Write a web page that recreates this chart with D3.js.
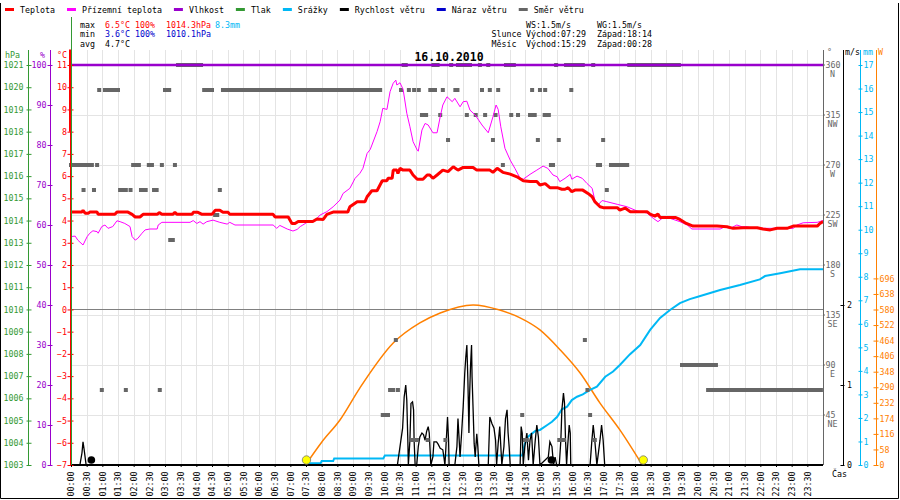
<!DOCTYPE html>
<html>
<head>
<meta charset="utf-8">
<script src="https://cdn.jsdelivr.net/npm/d3@7"></script>
<style>
body { margin: 0; background: #fff; }
svg { display: block; font-family: "DejaVu Sans Mono", monospace; font-size: 8.3px; }
</style>
</head>
<body>
<svg id="chart" width="900" height="500"></svg>
<script>
// values, times in minutes after midnight
const legendNames = ["Teplota", "Přízemní teplota", "Vlhkost", "Tlak", "Srážky", "Rychlost větru", "Náraz větru", "Směr větru"]
const legendColors = ["#ff0000", "#ff00ff", "#9900cc", "#339933", "#00b8f5", "#000000", "#0000cc", "#666666"]

const title = "16.10.2010"
const statsLeft = [
    ["max", "6.5°C", "100%", "1014.3hPa", "8.3mm"],
    ["min", "3.6°C", "100%", "1010.1hPa", ""],
    ["avg", "4.7°C", "", "", ""]
]
const statsRight = [
    ["", "WS:1.5m/s", "WG:1.5m/s"],
    ["Slunce", "Východ:07:29", "Západ:18:14"],
    ["Měsíc", "Východ:15:29", "Západ:00:28"]
]

const temperature = [
    [0,4.38],[21,4.38],[23,4.46],[27,4.33],[33,4.33],[36,4.38],[50,4.38],[52,4.28],[84,4.28],[88,4.38],
    [109,4.38],[117,4.28],[123,4.16],[132,4.16],[138,4.28],[165,4.28],[169,4.36],[174,4.28],[195,4.28],
    [199,4.37],[203,4.28],[232,4.28],[234,4.37],[243,4.37],[251,4.28],[270,4.28],[276,4.46],[285,4.46],
    [291,4.37],[301,4.37],[304,4.28],[387,4.28],[391,4.16],[416,4.16],[423,3.87],[429,3.87],[435,3.96],
    [463,3.96],[471,4.07],[483,4.05],[490,4.28],[502,4.38],[530,4.38],[534,4.62],[548,4.85],[563,4.85],
    [567,5.07],[576,5.34],[586,5.34],[596,5.79],[605,5.79],[607,5.9],[615,5.9],[617,6.27],[624,6.27],
    [626,6.12],[630,6.35],[636,6.27],[649,6.27],[655,6.05],[663,5.86],[674,5.86],[682,6.05],[687,6.05],
    [693,5.9],[701,6.05],[712,6.27],[722,6.2],[732,6.42],[741,6.27],[751,6.39],[770,6.39],[777,6.27],
    [802,6.27],[808,6.17],[816,6.35],[827,6.17],[841,6.09],[854,5.97],[866,5.79],[879,5.76],[892,5.76],
    [898,5.6],[908,5.66],[917,5.48],[931,5.48],[940,5.41],[946,5.41],[952,5.48],[959,5.3],[965,5.37],
    [980,5.37],[990,5.22],[998,5.07],[1003,4.85],[1013,4.62],[1019,4.58],[1046,4.58],[1051,4.47],
    [1061,4.56],[1071,4.4],[1103,4.4],[1109,4.29],[1118,4.2],[1124,4.29],[1128,4.14],[1157,4.14],
    [1166,4.05],[1176,3.9],[1191,3.75],[1237,3.75],[1256,3.72],[1268,3.65],[1287,3.68],[1314,3.68],
    [1325,3.62],[1339,3.58],[1352,3.65],[1371,3.65],[1383,3.75],[1429,3.75],[1434,3.87],[1440,3.95]
]
const tempStartSpike = [11.7, 8.0]

const groundTemp = [
    [0,3.28],[8,3.3],[13,3.12],[23,2.9],[31,3.28],[36,3.43],[42,3.54],[50,3.5],[52,3.43],[59,3.73],
    [65,3.8],[71,3.65],[80,3.73],[88,3.99],[94,3.95],[103,3.87],[113,3.73],[117,3.28],[123,3.12],
    [128,3.2],[136,3.43],[142,3.58],[151,3.62],[165,3.62],[167,3.8],[174,3.92],[228,3.92],[234,4.0],
    [241,3.87],[247,3.95],[253,3.84],[260,3.95],[272,4.02],[285,3.92],[299,3.84],[304,3.92],[314,3.8],
    [387,3.8],[394,3.65],[400,3.78],[414,3.62],[425,3.53],[433,3.6],[439,3.73],[444,3.8],[452,3.92],
    [463,3.95],[471,4.1],[477,4.25],[490,4.4],[502,4.62],[515,4.92],[521,5.22],[534,5.45],[544,5.9],
    [553,6.12],[559,6.35],[567,7.02],[573,7.2],[586,8.0],[592,8.45],[597,9.05],[605,9.0],[611,9.8],
    [617,10.18],[622,10.32],[624,10.1],[630,10.2],[636,9.9],[643,8.83],[649,8.22],[655,7.55],[663,7.17],
    [665,7.12],[672,8.07],[678,8.37],[684,8.3],[693,7.95],[701,7.95],[707,8.67],[712,9.2],[720,9.57],
    [730,9.35],[735,9.5],[745,9.12],[751,9.35],[758,9.37],[764,8.97],[774,8.75],[787,8.3],[799,7.95],
    [808,8.67],[814,9.2],[818,9.0],[823,8.22],[831,7.25],[841,6.72],[850,6.35],[860,5.9],[866,5.86],
    [879,6.08],[892,6.27],[904,6.45],[913,6.35],[923,6.05],[931,5.97],[936,5.75],[946,5.9],[956,6.08],
    [959,5.86],[969,6.0],[979,5.9],[988,5.67],[998,5.45],[1003,4.92],[1009,4.7],[1017,4.9],[1026,4.85],
    [1046,4.73],[1065,4.62],[1084,4.43],[1103,4.34],[1115,4.1],[1124,3.95],[1132,4.1],[1147,4.1],
    [1166,3.95],[1180,3.8],[1189,3.62],[1243,3.62],[1252,3.72],[1262,3.65],[1275,3.8],[1285,3.72],
    [1295,3.72],[1306,3.65],[1344,3.65],[1383,3.65],[1390,3.8],[1402,3.9],[1429,3.92],[1440,4.0]
]

const humidity = [[0,100],[1440,100]]

const precipitation = [
    [0,0],[456,0],[458,0.07],[478,0.07],[480,0.17],[502,0.17],[504,0.28],[598,0.28],[601,0.4],[864,0.4],
    [866,0.6],[869,0.9],[875,1.2],[879,1.27],[889,1.45],[898,1.49],[912,1.7],[921,1.84],[931,2.05],
    [940,2.37],[950,2.48],[959,2.76],[969,2.9],[980,3.0],[994,3.19],[1007,3.33],[1023,3.75],[1038,3.97],
    [1051,4.25],[1070,4.7],[1090,5.1],[1109,5.74],[1128,6.25],[1147,6.59],[1166,6.88],[1185,7.05],
    [1205,7.18],[1243,7.44],[1281,7.65],[1319,7.89],[1329,8.03],[1358,8.15],[1396,8.32],[1440,8.32]
]

const windSpeed = [
    [0,0],[17,0],[21,0.15],[23,0.29],[25,0.2],[29,0],
    [625,0],[630,0.23],[635,0.46],[638,0.85],[641,1.0],[643,0.81],[645,0.31],[646,0],
    [649,0.31],[651,0.77],[654,0.79],[656,0.69],[657,0.31],[659,0],
    [662,0],[665,0.23],[668,0.35],[672,0.4],[675,0.38],[678,0.31],[681,0.42],[684,0.48],[686,0.4],[689,0],
    [693,0.1],[695,0.29],[700,0.29],[703,0.26],[707,0.21],[712,0.19],[714,0.1],[716,0],
    [718,0.23],[721,0.6],[723,0.31],[724,0],
    [735,0],[739,0.23],[741,0.58],[744,0.23],[745,0.1],[748,0.4],[751,0.73],[754,1.15],[756,1.35],
    [758,1.5],[760,1.06],[762,0.4],[763,0.81],[765,1.23],[767,1.5],[768,1.1],[770,0.69],[772,0.27],
    [774,0.1],[777,0.39],[779,0.23],[781,0],
    [799,0],[801,0.4],[802,0.6],[806,0.52],[810,0.46],[813,0.31],[815,0],[818,0.27],[821,0.48],[825,0],
    [829,0.23],[832,0.58],[835,0.69],[837,0.4],[839,0.23],[841,0],
    [860,0],[862,0.48],[864,0.4],[866,0],[869,0.23],[873,0.4],[876,0.06],[879,0.31],[882,0.4],[885,0],
    [889,0.31],[892,0.5],[895,0.35],[898,0],
    [914,0.1],[917,0.29],[921,0.23],[924,0],[927,0.1],[930,0],
    [935,0],[938,0.31],[940,0.69],[943,0.9],[945,0.77],[947,0.31],[949,0],[951,0.23],[954,0.5],[956,0.4],[957,0],
    [994,0],[997,0.27],[1000,0.5],[1003,0.31],[1007,0],[1013,0.31],[1016,0.5],[1019,0.31],[1022,0],
    [1440,0]
]

// wind direction samples as runs: [first minute, last minute, degrees]
const windDirRuns = [
    [205,249,360],[637,641,360],[694,702,360],[728,728,360],[741,754,360],[760,764,360],[783,783,360],
    [799,799,360],[833,841,360],[848,848,360],[929,929,360],[948,980,360],[1000,1000,360],[1069,1164,360],
    [54,54,337.5],[65,90,337.5],[180,188,337.5],[255,270,337.5],[291,592,337.5],[632,632,337.5],
    [647,647,337.5],[657,657,337.5],[666,666,337.5],[688,697,337.5],[712,712,337.5],[736,740,337.5],
    [787,787,337.5],[802,802,337.5],[818,818,337.5],[883,883,337.5],[898,898,337.5],[908,908,337.5],
    [958,958,337.5],
    [672,680,315],[707,707,315],[758,758,315],[775,775,315],[793,793,315],[813,813,315],[843,843,315],
    [856,856,315],[879,888,315],[907,915,315],
    [722,722,292.5],[808,808,292.5],[894,894,292.5],[934,934,292.5],[1019,1019,292.5],
    [0,21,270],[27,40,270],[50,50,270],[119,130,270],[149,155,270],[174,174,270],[199,199,270],
    [827,827,270],[919,923,270],[1009,1013,270],[1034,1065,270],
    [24,24,247.5],[44,44,247.5],[94,105,247.5],[114,114,247.5],[134,143,247.5],[159,164,247.5],
    [285,285,247.5],[1026,1026,247.5],
    [276,280,225],
    [190,195,202.5],
    [622,622,112.5],[984,984,112.5],
    [1170,1235,90],
    [59,59,67.5],[105,105,67.5],[170,170,67.5],[611,617,67.5],[626,626,67.5],[989,989,67.5],[1220,1436,67.5],
    [597,607,45],[864,864,45],[994,994,45],
    [652,663,22.5],[683,683,22.5],[717,717,22.5],[869,873,22.5],[935,944,22.5],[1003,1003,22.5]
]

const solarRadiation = [
    [449,0],[480,85],[515,168],[553,287],[617,455],[668,530],[707,567],[770,597],[821,578],
    [860,549],[898,504],[937,429],[975,343],[1013,231],[1051,131],[1094,0]
]
const sunMarkers = [449, 1094]
const moonMarkers = [39, 920]

const dirTicks = [360, 315, 270, 225, 180, 135, 90, 45]
const dirNames = ["N", "NW", "W", "SW", "S", "SE", "E", "NE"]
const windTicks = [0, 1, 2]
const mmTicks = d3.range(0, 18)
const wattTicks = [0, 58, 116, 174, 232, 290, 348, 406, 464, 522, 580, 638, 696]
const hpaTicks = d3.range(1003, 1022)
const humTicks = d3.range(0, 101, 10)
const tempTicks = d3.range(-7, 12)

const plot = { left: 71, right: 823, top: 65, bottom: 465, gridTop: 50 }

const svg = d3.select("#chart")

const x = d3.scaleLinear().domain([0, 1440]).range([plot.left, plot.right])
const yT = d3.scaleLinear().domain([-7, 11]).range([plot.bottom, plot.top])
const yP = d3.scaleLinear().domain([1003, 1021]).range([plot.bottom, plot.top])
const yH = d3.scaleLinear().domain([0, 100]).range([plot.bottom, plot.top])
const yDir = d3.scaleLinear().domain([0, 360]).range([plot.bottom, plot.top])
const yWs = d3.scaleLinear().domain([0, 5]).range([plot.bottom, plot.top])
const yMm = d3.scaleLinear().domain([0, 17]).range([plot.bottom, plot.top])
const yW = d3.scaleLinear().domain([0, 1492]).range([plot.bottom, plot.top])

// frame
svg.append("path")
    .attr("d", "M0.5,3V498.5H898.5V3")
    .attr("fill", "none")
    .attr("stroke", "#000")

// grid
svg.append("g").selectAll("line")
    .data(d3.range(30, 1440, 30))
    .join("line")
    .attr("x1", d => Math.round(x(d)) + 0.5).attr("x2", d => Math.round(x(d)) + 0.5)
    .attr("y1", plot.gridTop).attr("y2", plot.bottom)
    .attr("stroke", "#e4e4e4")
svg.append("g").selectAll("line")
    .data(dirTicks.slice(1))
    .join("line")
    .attr("x1", plot.left).attr("x2", plot.right)
    .attr("y1", d => Math.round(yDir(d)) + 0.5).attr("y2", d => Math.round(yDir(d)) + 0.5)
    .attr("stroke", "#e4e4e4")

// 0 °C line
svg.append("line")
    .attr("x1", plot.left - 1).attr("x2", plot.right)
    .attr("y1", Math.round(yT(0)) + 0.5).attr("y2", Math.round(yT(0)) + 0.5)
    .attr("stroke", "#808080")

const lineOf = (yScale) => d3.line().x(d => x(d[0])).y(d => yScale(d[1]))

// solar radiation
svg.append("path")
    .datum(solarRadiation)
    .attr("d", lineOf(yW).curve(d3.curveMonotoneX))
    .attr("fill", "none").attr("stroke", "#ff8000").attr("stroke-width", 1.5)

// precipitation
svg.append("path")
    .datum(precipitation)
    .attr("d", lineOf(yMm))
    .attr("fill", "none").attr("stroke", "#00b8f5").attr("stroke-width", 2)

// wind speed
svg.append("path")
    .datum(windSpeed)
    .attr("d", lineOf(yWs))
    .attr("fill", "none").attr("stroke", "#000").attr("stroke-width", 1.3)

// wind direction
svg.append("g").selectAll("rect")
    .data(windDirRuns)
    .join("rect")
    .attr("x", d => x(d[0]) - 2)
    .attr("width", d => x(d[1]) - x(d[0]) + 4)
    .attr("y", d => yDir(d[2]) - 2)
    .attr("height", 4)
    .attr("fill", "#666")

// humidity
svg.append("path")
    .datum(humidity)
    .attr("d", lineOf(yH))
    .attr("fill", "none").attr("stroke", "#9900cc").attr("stroke-width", 2.5)

// ground temperature
svg.append("path")
    .datum(groundTemp)
    .attr("d", lineOf(yT))
    .attr("fill", "none").attr("stroke", "#ff00ff").attr("stroke-width", 1)

// temperature
svg.append("path")
    .datum(temperature)
    .attr("d", lineOf(yT))
    .attr("fill", "none").attr("stroke", "#ff0000").attr("stroke-width", 3)
    .attr("stroke-linejoin", "bevel")

// bottom base line
svg.append("line")
    .attr("x1", plot.left - 1).attr("x2", plot.right)
    .attr("y1", plot.bottom).attr("y2", plot.bottom)
    .attr("stroke", "#000").attr("stroke-width", 2)

// sun and moon markers
svg.append("g").selectAll("circle")
    .data(sunMarkers)
    .join("circle")
    .attr("cx", d => x(d) + 1).attr("cy", plot.bottom - 5).attr("r", 4.2)
    .attr("fill", "#ffff00").attr("stroke", "#777").attr("stroke-width", 0.8)
svg.append("g").selectAll("circle")
    .data(moonMarkers)
    .join("circle")
    .attr("cx", d => x(d)).attr("cy", plot.bottom - 5).attr("r", 3.8)
    .attr("fill", "#000")

// left axes
function dressAxis(g, color, t1, t2) {
    g.attr("font-family", null).attr("font-size", null)
    g.select(".domain").remove()
    g.selectAll(".tick line").attr("stroke", color).attr("x1", t1).attr("x2", t2)
    g.selectAll(".tick text").attr("fill", color)
}
function axisLine(xPos, color) {
    svg.append("line")
        .attr("x1", xPos + 0.5).attr("x2", xPos + 0.5)
        .attr("y1", plot.gridTop).attr("y2", plot.bottom)
        .attr("stroke", color)
}

axisLine(28, "#339933")
svg.append("g").attr("transform", "translate(28.5,0)")
    .call(d3.axisLeft(yP).tickValues(hpaTicks).tickSize(3).tickPadding(2).tickFormat(d3.format("d")))
    .call(g => dressAxis(g, "#339933", -2, 3))

axisLine(50, "#9900cc")
svg.append("g").attr("transform", "translate(50.5,0)")
    .call(d3.axisLeft(yH).tickValues(humTicks).tickSize(3).tickPadding(1))
    .call(g => dressAxis(g, "#9900cc", -3, 2))

axisLine(70, "#ff0000")
svg.append("g").attr("transform", "translate(70.5,0)")
    .call(d3.axisLeft(yT).tickValues(tempTicks).tickSize(3).tickPadding(0.5))
    .call(g => dressAxis(g, "#ff0000", -3, 3))

// odd first temperature sample and the pressure trace at the left edge
svg.append("line")
    .attr("x1", x(0) - 1).attr("x2", x(0) - 1)
    .attr("y1", yT(tempStartSpike[0])).attr("y2", yT(tempStartSpike[1]))
    .attr("stroke", "#ff0000").attr("stroke-width", 2)
svg.append("line")
    .attr("x1", x(0) + 0.5).attr("x2", x(0) + 0.5)
    .attr("y1", 17).attr("y2", plot.bottom)
    .attr("stroke", "#339933")

svg.append("text").attr("x", 5).attr("y", 58).attr("fill", "#339933").text("hPa")
svg.append("text").attr("x", 40).attr("y", 58).attr("fill", "#9900cc").text("%")
svg.append("text").attr("x", 57).attr("y", 58).attr("fill", "#ff0000").text("°C")

// right axes
axisLine(823, "#666")
const dirG = svg.append("g").selectAll("g")
    .data(dirTicks)
    .join("g")
    .attr("transform", d => `translate(823,${yDir(d)})`)
dirG.append("line").attr("x1", 0).attr("x2", 2).attr("stroke", "#666")
dirG.append("text").attr("x", 2.5).attr("dy", "0.32em").attr("fill", "#666").text(d => d)
dirG.append("text").attr("x", 9.5).attr("y", 9).attr("dy", "0.32em")
    .attr("text-anchor", "middle").attr("fill", "#666")
    .text((d, i) => dirNames[i])
svg.append("text").attr("x", 827).attr("y", 55).attr("fill", "#666").text("°")

axisLine(843, "#000")
svg.append("g").attr("transform", "translate(843.5,0)")
    .call(d3.axisRight(yWs).tickValues(windTicks).tickSize(2).tickPadding(1.5).tickFormat(d3.format("d")))
    .call(g => dressAxis(g, "#000", -3, 1))
svg.append("text").attr("x", 845).attr("y", 55).attr("fill", "#000").text("m/s")

axisLine(860, "#00b8f5")
svg.append("g").attr("transform", "translate(860.5,0)")
    .call(d3.axisRight(yMm).tickValues(mmTicks).tickSize(2).tickPadding(1))
    .call(g => dressAxis(g, "#00b8f5", -2, 2))
svg.append("text").attr("x", 863).attr("y", 55).attr("fill", "#00b8f5").text("mm")

axisLine(876, "#ff8000")
svg.append("g").attr("transform", "translate(876.5,0)")
    .call(d3.axisRight(yW).tickValues(wattTicks).tickSize(2).tickPadding(1))
    .call(g => dressAxis(g, "#ff8000", -3, 2))
svg.append("text").attr("x", 878).attr("y", 55).attr("fill", "#ff8000").text("W")

svg.append("text").attr("x", 832).attr("y", 477).attr("fill", "#000").text("Čas")

// time axis
const pad = n => String(n).padStart(2, "0")
svg.append("g").attr("transform", `translate(0,${plot.bottom})`)
    .call(d3.axisBottom(x).tickValues(d3.range(0, 1440, 30)).tickSize(2)
        .tickFormat(m => pad(Math.floor(m / 60)) + ":" + pad(m % 60)))
    .call(g => {
        g.attr("font-family", null).attr("font-size", null)
        g.select(".domain").remove()
        g.selectAll(".tick line").attr("stroke", "#000")
        g.selectAll(".tick text")
            .attr("transform", "rotate(-90)")
            .attr("text-anchor", "end")
            .attr("x", -6.5).attr("y", 0).attr("dy", "0.33em")
            .attr("fill", "#000")
    })

// title
svg.append("text")
    .attr("x", 449).attr("y", 61)
    .attr("text-anchor", "middle")
    .attr("font-size", "11.5px").attr("font-weight", "bold")
    .text(title)

// legend
let lx = 5
legendNames.forEach((name, i) => {
    svg.append("line")
        .attr("x1", lx).attr("x2", lx + 9)
        .attr("y1", 9.5).attr("y2", 9.5)
        .attr("stroke", legendColors[i]).attr("stroke-width", 3)
    const t = svg.append("text").attr("x", lx + 15).attr("y", 12.5).attr("fill", "#000").text(name)
    lx += 15 + t.node().getComputedTextLength() + 12
})

// statistics block
const statColors = [
    ["#000", "#ff0000", "#ff0000", "#ff0000", "#00b8f5"],
    ["#000", "#0000cc", "#0000cc", "#0000cc", "#000"],
    ["#000", "#000", "#000", "#000", "#000"]
]
const statCols = [80, 105, 135, 166, 215]
const rowY = [27.5, 37, 46.5]
statsLeft.forEach((row, r) => {
    row.forEach((s, c) => {
        if (!s) return
        svg.append("text").attr("x", statCols[c]).attr("y", rowY[r]).attr("fill", statColors[r][c]).text(s)
    })
})
const rightCols = [491.5, 526, 597]
statsRight.forEach((row, r) => {
    row.forEach((s, c) => {
        if (!s) return
        svg.append("text").attr("x", rightCols[c]).attr("y", rowY[r]).attr("fill", "#000").text(s)
    })
})
</script>
</body>
</html>
